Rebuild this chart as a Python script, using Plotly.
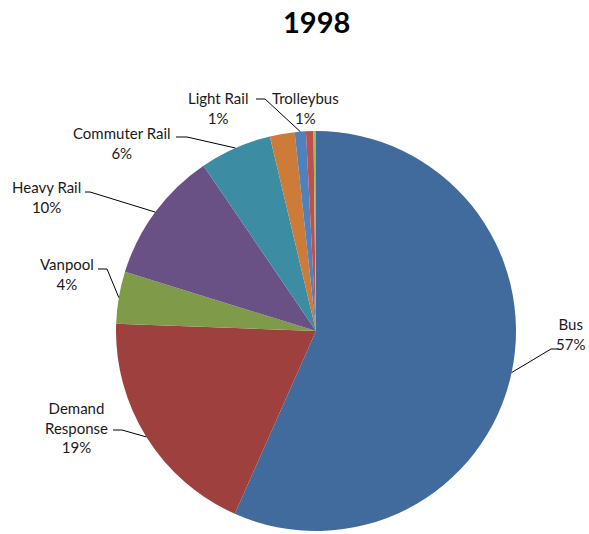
import math

import plotly.graph_objects as go

W, H = 589, 534

labels = ["Bus", "Demand Response", "Vanpool", "Heavy Rail", "Commuter Rail",
          "Ferryboat", "Light Rail", "Trolleybus", "Other"]
values = [56.6, 18.9, 4.2, 10.7, 5.8, 2.0, 0.9, 0.6, 0.2]
colors = ["#406B9C", "#9E413E", "#7F9A48", "#695185", "#3C8DA3",
          "#CC7B38", "#4F81BD", "#C0504D", "#9BBB59"]
title = "1998"

# pie geometry in pixels (Excel-like placement)
CX, CY, R = 316, 331, 200

# label block centre, leader end (by the text) and knee, in pixels
_LBL = {
    "Bus": dict(text="Bus<br>57%", pos=(570, 334), end=(558, 349), knee=(551, 349)),
    "Demand Response": dict(text="Demand<br>Response<br>19%", pos=(76, 427),
                            end=(113, 430), knee=(122, 430)),
    "Vanpool": dict(text="Vanpool<br>4%", pos=(67, 274), end=(98, 269), knee=(107, 269)),
    "Heavy Rail": dict(text="Heavy Rail<br>10%", pos=(46, 197), end=(85, 192), knee=(90, 192)),
    "Commuter Rail": dict(text="Commuter Rail<br>6%", pos=(122, 143), end=(176, 137), knee=(187, 137)),
    "Light Rail": dict(text="Light Rail<br>1%", pos=(218, 108), end=(256, 99), knee=(265, 99)),
    "Trolleybus": dict(text="Trolleybus<br>1%", pos=(305, 108), end=None, knee=None),
}

_FONT = "Lato, 'Open Sans', sans-serif"


def px(x, y):
    return x / W, 1 - y / H


fig = go.Figure(go.Pie(
    labels=labels, values=values, sort=False, direction="clockwise", rotation=0,
    marker=dict(colors=colors, line=dict(width=0)), textinfo="none",
    hoverinfo="label+percent",
    domain=dict(x=[(CX - R) / W, (CX + R) / W], y=[1 - (CY + R) / H, 1 - (CY - R) / H]),
))

total = sum(values)
cum = 0.0
annotations, shapes = [], []
for name, v in zip(labels, values):
    mid = (cum + v / 2) / total * 2 * math.pi
    cum += v
    if name not in _LBL:
        continue
    spec = _LBL[name]
    x, y = px(*spec["pos"])
    annotations.append(dict(x=x, y=y, xref="paper", yref="paper", text=spec["text"],
                            showarrow=False, xanchor="center", yanchor="middle",
                            font=dict(family=_FONT, size=15, color="#1a1a1a")))
    if spec["knee"]:
        ex, ey = CX + R * math.sin(mid), CY - R * math.cos(mid)
        pts = [px(*spec["end"]), px(*spec["knee"]), px(ex, ey)]
        path = "M " + " L ".join(f"{a},{b}" for a, b in pts)
        shapes.append(dict(type="path", path=path, xref="paper", yref="paper",
                           line=dict(color="black", width=1)))

annotations.append(dict(x=316 / W, y=1 - 22 / H, xref="paper", yref="paper",
                        text=f"<b>{title}</b>", showarrow=False,
                        xanchor="center", yanchor="middle",
                        font=dict(family=_FONT, size=29, color="black")))

fig.update_layout(width=W, height=H, margin=dict(l=0, r=0, t=0, b=0),
                  showlegend=False, paper_bgcolor="white", plot_bgcolor="white",
                  annotations=annotations, shapes=shapes)
# drop the page's default 8px body margin so the figure sits at the window origin
fig.write_html("out.html", config={"displayModeBar": False},
               post_script="document.body.style.margin='0';")
